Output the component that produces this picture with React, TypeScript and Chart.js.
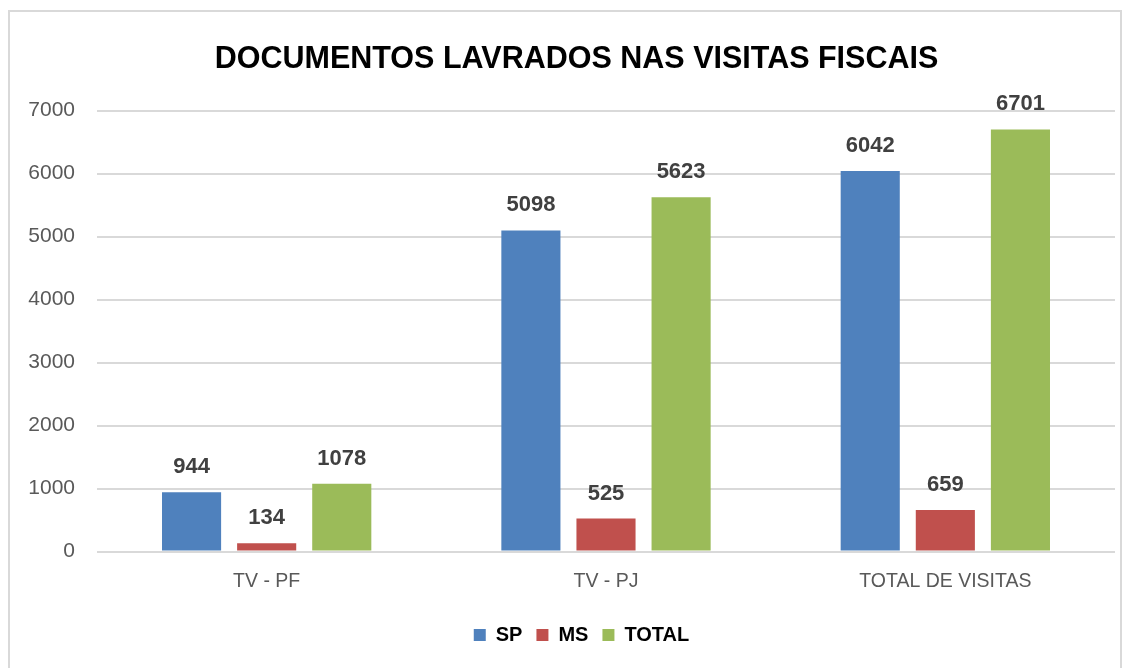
import React, { useEffect, useRef } from "react";
import { Chart, registerables } from "chart.js";

Chart.register(...registerables);

const categories = ["TV - PF", "TV - PJ", "TOTAL DE VISITAS"];
const spValues = [944, 5098, 6042];
const msValues = [134, 525, 659];
const totalValues = [1078, 5623, 6701];
const seriesNames = ["SP", "MS", "TOTAL"];
const yTicks = [0, 1000, 2000, 3000, 4000, 5000, 6000, 7000];
const titleText = "DOCUMENTOS LAVRADOS NAS VISITAS FISCAIS";

const FONT = "'Liberation Sans', Arial, sans-serif";

const labelPlugin = {
  id: "barValueLabels",
  afterDatasetsDraw(chart: any) {
    const ctx = chart.ctx;
    ctx.save();
    ctx.font = `bold 22px ${FONT}`;
    ctx.fillStyle = "#404040";
    ctx.textAlign = "center";
    ctx.textBaseline = "middle";
    chart.data.datasets.forEach((ds: any, i: number) => {
      const meta = chart.getDatasetMeta(i);
      meta.data.forEach((bar: any, j: number) => {
        ctx.fillText(String(ds.data[j]), bar.x, bar.y - 25);
      });
    });
    ctx.restore();
  },
};

const shiftPlugin = {
  id: "shiftBlocks",
  afterLayout(chart: any) {
    if (chart.titleBlock) {
      chart.titleBlock.left += 9;
      chart.titleBlock.right += 9;
    }
    if (chart.legend) {
      chart.legend.left += 14;
      chart.legend.right += 14;
    }
  },
};

export default function App() {
  const ref = useRef<HTMLCanvasElement | null>(null);
  useEffect(() => {
    if (!ref.current) return;
    const chart = new Chart(ref.current, {
      type: "bar",
      data: {
        labels: categories,
        datasets: [
          { label: seriesNames[0], data: spValues, backgroundColor: "#4f81bd" },
          { label: seriesNames[1], data: msValues, backgroundColor: "#c0504d" },
          { label: seriesNames[2], data: totalValues, backgroundColor: "#9bbb59" },
        ],
      },
      options: {
        animation: false,
        responsive: false,
        maintainAspectRatio: false,
        layout: { padding: { left: 20, right: 17, top: 20, bottom: 13 } },
        datasets: {
          bar: { categoryPercentage: 0.664, barPercentage: 0.787 },
        },
        plugins: {
          title: {
            display: true,
            text: titleText,
            color: "#000000",
            font: { family: FONT, size: 30.5, weight: "bold" },
            padding: { top: 21, bottom: 33 },
          },
          legend: {
            position: "bottom",
            labels: {
              color: "#000000",
              boxWidth: 12,
              boxHeight: 12,
              padding: 14,
              font: { family: FONT, size: 20, weight: "bold" },
            },
          },
          tooltip: { enabled: false },
        },
        scales: {
          x: {
            grid: { display: false },
            border: { display: false },
            afterFit: (scale: any) => {
              scale.height += 8;
            },
            ticks: {
              color: "#595959",
              font: { family: FONT, size: 19.5 },
              padding: 10,
            },
          },
          y: {
            min: 0,
            max: 7000,
            afterFit: (scale: any) => {
              scale.width = 77;
            },
            afterBuildTicks: (scale: any) => {
              scale.ticks = yTicks.map((v) => ({ value: v }));
            },
            grid: { color: "#d9d9d9", lineWidth: 2, drawTicks: false },
            border: { display: false },
            ticks: {
              color: "#595959",
              font: { family: FONT, size: 21 },
              padding: 22,
              callback: (v: any) => String(v),
            },
          },
        },
      },
      plugins: [labelPlugin, shiftPlugin],
    });
    return () => chart.destroy();
  }, []);
  return (
    <div style={{ position: "fixed", left: 0, top: 0, width: 1132, height: 668, background: "#fff", overflow: "hidden" }}>
      <div
        style={{
          position: "absolute",
          left: 8,
          top: 10,
          width: 1114,
          height: 700,
          border: "2px solid #d9d9d9",
          boxSizing: "border-box",
        }}
      />
      <canvas ref={ref} width={1132} height={668} style={{ position: "absolute", left: 0, top: 0 }} />
    </div>
  );
}
